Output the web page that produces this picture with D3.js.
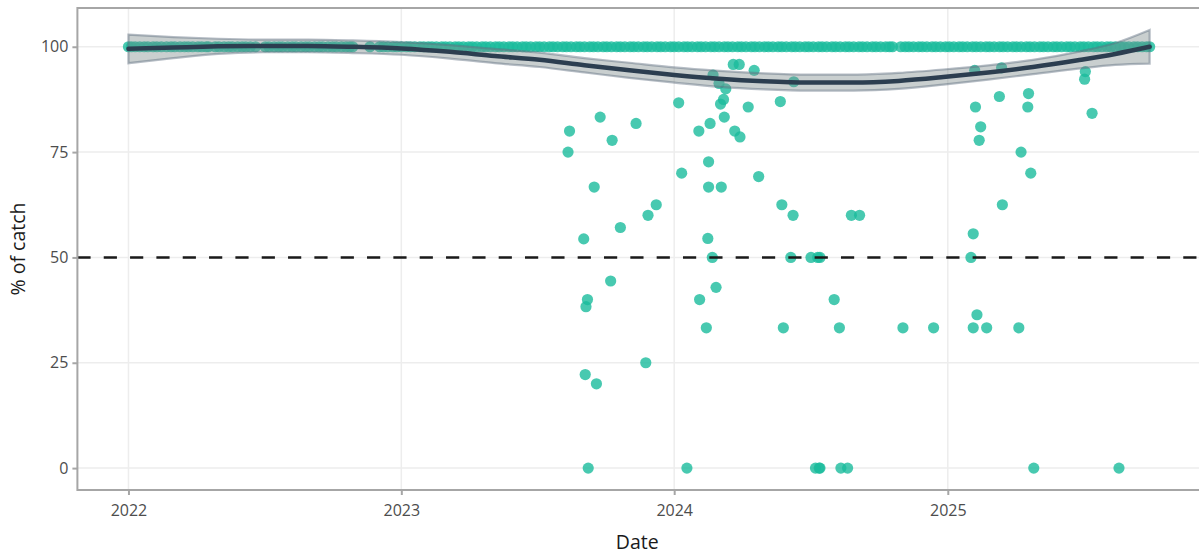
<!DOCTYPE html>
<html>
<head>
<meta charset="utf-8">
<script src="https://cdn.jsdelivr.net/npm/d3@7"></script>
<style>
  html, body { margin: 0; padding: 0; background: #fff; }
  svg { display: block; font-family: "Open Sans", "Noto Sans", sans-serif; }
</style>
</head>
<body>
<svg id="chart" width="1199" height="554"></svg>
<script>
// ---------------- DATA ----------------
// Start date of the series and the days (offset from it) on which catch was 100 %
const seriesStart = "2022-01-01";
const fullCatchDays = [
  0,4,9,15,21,26,33,38,44,51,57,62,69,75,80,86,93,98,104,107,
  116,121,128,134,139,146,152,157,163,170,
  183,188,195,201,206,213,219,224,231,237,242,249,255,260,267,273,278,285,291,296,300,
  323,
  336,341,347,354,359,365,372,377,383,390,
  395,401,406,412,419,424,430,437,442,448,455,460,466,473,478,484,491,496,502,509,
  514,520,527,532,538,545,550,556,563,568,574,581,586,592,599,604,610,617,622,628,
  635,640,646,653,658,664,671,676,682,689,694,700,707,712,718,725,730,736,743,748,
  754,761,766,772,779,784,790,797,802,808,815,820,826,833,838,844,851,856,862,869,
  874,880,887,892,898,905,910,916,923,928,934,941,946,952,959,964,970,977,982,988,
  995,1000,1006,1013,1018,1022,
  1033,1039,1044,1050,1057,1062,1068,1075,1080,1086,1093,1098,1104,1111,1116,1122,
  1129,1134,1140,1147,1152,1158,1165,1170,1176,1183,1188,1194,1201,1206,1212,1219,
  1224,1230,1237,1242,1248,1255,1260,1266,1273,1278,1284,1291,1296,1302,1309,1314,
  1320,1327,1332,1338,1345,1350,1356,1362,1366
];
const fullCatchValue = 100;

// Dates and values of the samples below 100 %
const partialDates = [
  "2023-08-12","2023-08-14","2023-09-02","2023-09-04","2023-09-05","2023-09-07","2023-09-08",
  "2023-09-16","2023-09-19","2023-09-24","2023-10-08","2023-10-10","2023-10-21","2023-11-11",
  "2023-11-24","2023-11-27","2023-12-08",
  "2024-01-07","2024-01-11","2024-01-18","2024-02-03","2024-02-04","2024-02-13","2024-02-15",
  "2024-02-16","2024-02-16","2024-02-18","2024-02-21","2024-02-22","2024-02-26","2024-03-01",
  "2024-03-03","2024-03-04","2024-03-07","2024-03-08","2024-03-10","2024-03-20","2024-03-22",
  "2024-03-28","2024-03-29","2024-04-09","2024-04-17","2024-04-23","2024-05-22","2024-05-24",
  "2024-05-26","2024-06-05","2024-06-08","2024-06-09","2024-07-02","2024-07-08","2024-07-11",
  "2024-07-13","2024-07-14","2024-07-14","2024-08-02","2024-08-09","2024-08-11","2024-08-20",
  "2024-08-25","2024-09-05","2024-11-02","2024-12-13",
  "2025-02-01","2025-02-04","2025-02-04","2025-02-06","2025-02-07","2025-02-09","2025-02-12",
  "2025-02-14","2025-02-22","2025-03-11","2025-03-14","2025-03-15","2025-04-06","2025-04-09",
  "2025-04-18","2025-04-19","2025-04-22","2025-04-26","2025-07-03","2025-07-04","2025-07-13",
  "2025-08-18"
];
const partialValues = [
  75,80,54.4,22.2,38.3,40,0,
  66.7,20,83.3,44.4,77.8,57.1,81.8,
  25,60,62.5,
  86.7,70,0,80,40,33.3,54.5,
  72.7,66.7,81.8,50,93.3,42.9,91.3,
  86.4,66.7,87.5,83.3,90,95.8,80,
  95.8,78.6,85.7,94.4,69.2,87,62.5,
  33.3,50,60,91.7,50,0,50,
  0,50,0,40,33.3,0,0,
  60,60,33.3,33.3,
  50,55.6,33.3,94.4,85.7,36.4,77.8,
  81,33.3,88.2,95,62.5,33.3,75,
  85.7,88.9,70,0,92.3,94.1,84.2,
  0
];

// Smoothed trend (loess) with confidence band half-width, at day offsets
const smoothDays = [0,60,120,180,240,300,365,430,490,550,610,670,730,790,850,910,970,1030,1090,1150,1210,1270,1320,1366];
const smoothFit  = [99.5,99.8,100.1,100.2,100.2,100.0,99.6,98.8,97.8,96.9,95.6,94.4,93.3,92.4,91.8,91.5,91.5,91.9,92.8,93.9,95.2,96.8,98.3,100.0];
const smoothSe   = [3.4,2.5,1.8,1.5,1.5,1.5,1.5,1.6,1.7,1.7,1.7,1.8,1.8,1.9,1.9,1.9,1.9,1.9,1.8,1.7,1.7,2.0,2.6,4.0];

const referenceLine = 50;
const yTicks = [0, 25, 50, 75, 100];
const xTickYears = ["2022", "2023", "2024", "2025"];
const xTitle = "Date";
const yTitle = "% of catch";

// ---------------- BUILD ----------------
const parse = d3.utcParse("%Y-%m-%d");
const start = parse(seriesStart);
const dayToDate = d => d3.utcDay.offset(start, d);

const points = fullCatchDays.map(d => ({date: dayToDate(d), value: fullCatchValue}))
  .concat(partialDates.map((s, i) => ({date: parse(s), value: partialValues[i]})));
const smooth = smoothDays.map((d, i) => ({date: dayToDate(d), fit: smoothFit[i], lo: smoothFit[i] - smoothSe[i], hi: smoothFit[i] + smoothSe[i]}));

const W = 1199, H = 554;
const panel = {left: 77.4, right: 1200.7, top: 8, bottom: 490};

// x domain: data extent expanded by 5 %
const xExt = d3.extent(points, d => d.date);
const span = xExt[1] - xExt[0];
const x = d3.scaleUtc()
  .domain([new Date(+xExt[0] - span * 0.05), new Date(+xExt[1] + span * 0.05)])
  .range([panel.left, panel.right]);

// y domain: 0 .. band max, expanded by 5 %
const yMin = 0, yMax = d3.max(smooth, d => d.hi);
const yPad = (yMax - yMin) * 0.05;
const y = d3.scaleLinear().domain([yMin - yPad, yMax + yPad]).range([panel.bottom, panel.top]);

const svg = d3.select("#chart");
const pw = panel.right - panel.left, ph = panel.bottom - panel.top;

// clip
svg.append("defs").append("clipPath").attr("id", "clip")
  .append("rect").attr("x", panel.left).attr("y", panel.top).attr("width", pw).attr("height", ph);

// grid
const grid = svg.append("g");
const xTickDates = xTickYears.map(yv => parse(yv + "-01-01"));
grid.selectAll("line.gx").data(xTickDates).join("line")
  .attr("x1", d => x(d)).attr("x2", d => x(d))
  .attr("y1", panel.top).attr("y2", panel.bottom)
  .attr("stroke", "#ededed").attr("stroke-width", 1.5);
grid.selectAll("line.gy").data(yTicks).join("line")
  .attr("x1", panel.left).attr("x2", panel.right)
  .attr("y1", d => y(d)).attr("y2", d => y(d))
  .attr("stroke", "#ededed").attr("stroke-width", 1.5);

const plot = svg.append("g").attr("clip-path", "url(#clip)");

// points
plot.append("g").selectAll("circle").data(points).join("circle")
  .attr("cx", d => x(d.date)).attr("cy", d => y(d.value)).attr("r", 5.6)
  .attr("fill", "#1abc9c").attr("fill-opacity", 0.8);

// ribbon
const area = d3.area().curve(d3.curveMonotoneX)
  .x(d => x(d.date)).y0(d => y(d.lo)).y1(d => y(d.hi));
plot.append("path").datum(smooth).attr("d", area)
  .attr("fill", "#7f8c8d").attr("fill-opacity", 0.42)
  .attr("stroke", "#5d6d7e").attr("stroke-opacity", 0.45).attr("stroke-width", 2.2);

// smooth line
const line = d3.line().curve(d3.curveMonotoneX).x(d => x(d.date)).y(d => y(d.fit));
plot.append("path").datum(smooth).attr("d", line)
  .attr("fill", "none").attr("stroke", "#2c3e50").attr("stroke-width", 4.5)
  .attr("stroke-linecap", "round");

// reference line
plot.append("line")
  .attr("x1", panel.left).attr("x2", panel.right)
  .attr("y1", y(referenceLine)).attr("y2", y(referenceLine))
  .attr("stroke", "#1a1a1a").attr("stroke-width", 2.4).attr("stroke-dasharray", "13.2,13.13");

// panel border
svg.append("rect").attr("x", panel.left).attr("y", panel.top).attr("width", pw).attr("height", ph)
  .attr("fill", "none").attr("stroke", "#a6a6a6").attr("stroke-width", 2);

// axes
const xAxis = d3.axisBottom(x).tickValues(xTickDates).tickFormat(d3.utcFormat("%Y")).tickSize(5).tickPadding(10);
const gx = svg.append("g").attr("transform", `translate(0,${panel.bottom})`).call(xAxis);
gx.select(".domain").remove();
gx.selectAll(".tick line").attr("stroke", "#a6a6a6").attr("stroke-width", 2);
gx.selectAll(".tick text").attr("fill", "#4d4d4d").style("font-size", "16px")
  .style("font-family", "'Open Sans', sans-serif");

const yAxis = d3.axisLeft(y).tickValues(yTicks).tickFormat(d3.format("d")).tickSize(5).tickPadding(4);
const gy = svg.append("g").attr("transform", `translate(${panel.left},0)`).call(yAxis);
gy.select(".domain").remove();
gy.selectAll(".tick line").attr("stroke", "#a6a6a6").attr("stroke-width", 2);
gy.selectAll(".tick text").attr("fill", "#4d4d4d").style("font-size", "16px")
  .style("font-family", "'Open Sans', sans-serif");

// titles
svg.append("text").attr("x", (panel.left + 1197) / 2).attr("y", 549)
  .attr("text-anchor", "middle").attr("fill", "#1a1a1a").style("font-size", "19.5px")
  .text(xTitle);
svg.append("text").attr("transform", `translate(25,${(panel.top + panel.bottom) / 2}) rotate(-90)`)
  .attr("text-anchor", "middle").attr("fill", "#1a1a1a").style("font-size", "19.5px")
  .text(yTitle);
</script>
</body>
</html>
